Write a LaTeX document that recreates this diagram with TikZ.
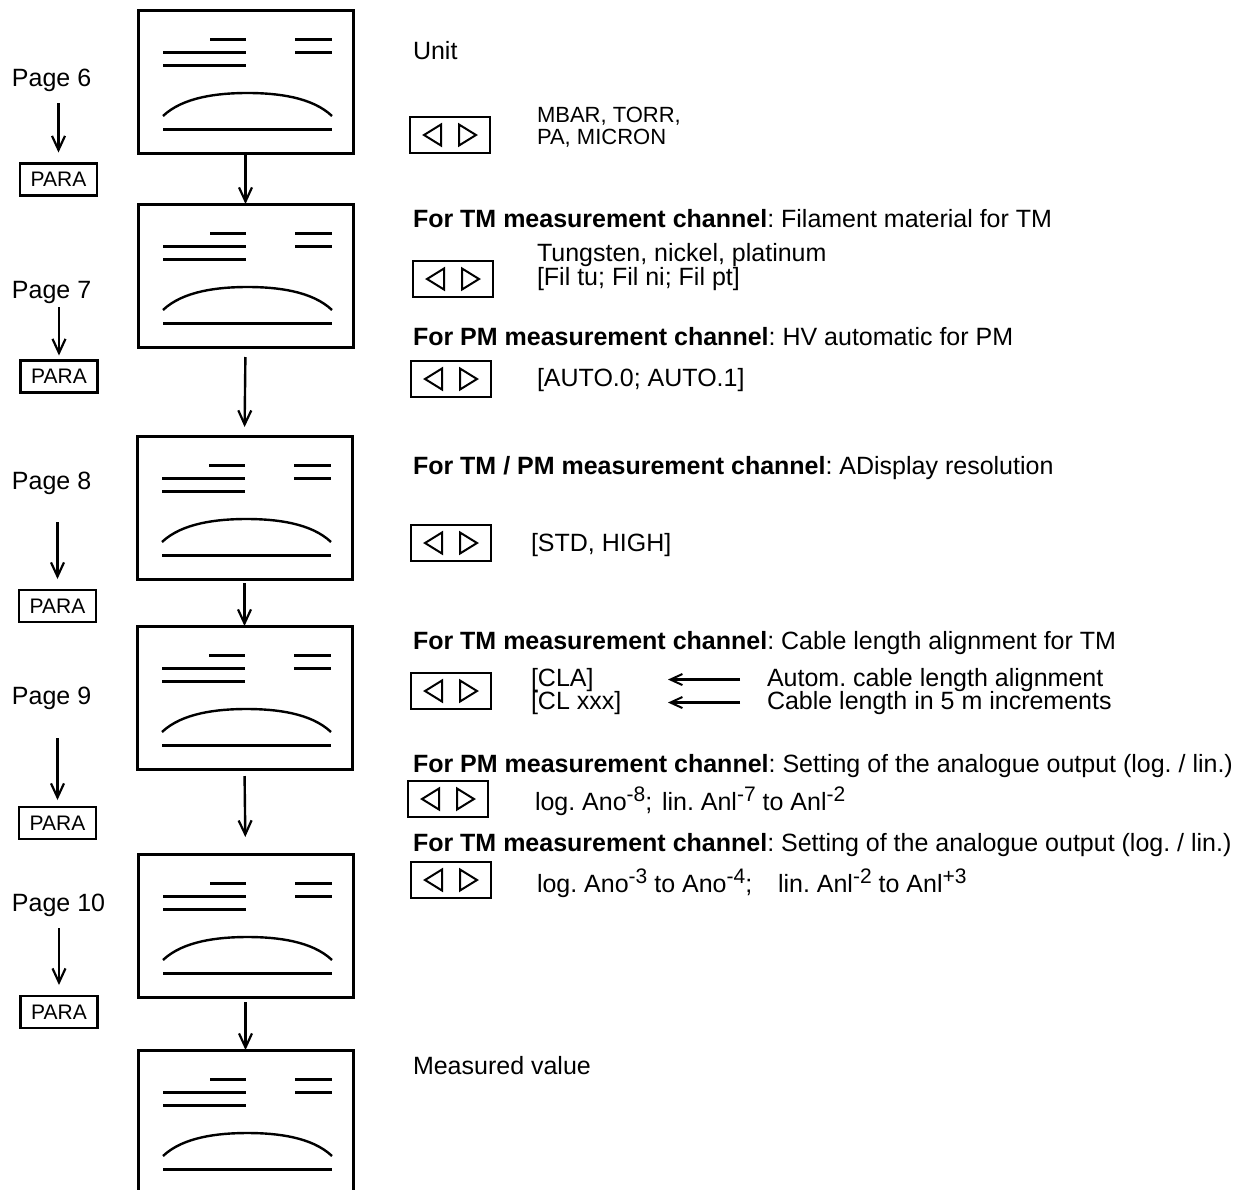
\documentclass[tikz,border=0pt]{standalone}
\usepackage{fontspec}
\setmainfont{Liberation Sans}
\usetikzlibrary{arrows.meta}
\frenchspacing
\newcommand\displines[1]{%
 \begin{scope}[shift={(#1.north west)}]
  \draw[dline] (72,29) -- (108,29) (157,29) -- (194,29)
            (25,42) -- (108,42) (157,42) -- (194,42)
            (25,55) -- (108,55)
            (25,119) -- (194,119);
  \draw[darc] (25,106) .. controls (45,87) and (80,83) .. (109.5,83) .. controls (139,83) and (174,87) .. (194,106);
 \end{scope}}
\newcommand\sps[1]{\raisebox{9pt}{\fontsize{21}{21}\selectfont #1}}
\begin{document}
\begin{tikzpicture}[x=1pt,y=-1pt,
  every node/.style={inner sep=0pt, outer sep=0pt},
  txt/.style={anchor=base west, font=\fontsize{25}{28}\selectfont},
  mtxt/.style={anchor=base west, font=\fontsize{22}{17}\selectfont},
  disp/.style={draw, line width=3pt, minimum width=215pt, minimum height=143pt, anchor=north west},
  dline/.style={line width=3pt},
  darc/.style={line width=2.4pt},
  btn/.style={draw, line width=2.8pt, minimum width=80pt, minimum height=36pt,
    path picture={
      \draw[line width=2pt, line join=miter]
        ([xshift=-26pt]path picture bounding box.center) -- ++(17pt,10.5pt) -- ++(0pt,-21pt) -- cycle
        ([xshift=26pt]path picture bounding box.center) -- ++(-17pt,10.5pt) -- ++(0pt,-21pt) -- cycle;}},
  para/.style={draw, line width=2.2pt, minimum width=77pt, minimum height=32pt, font=\fontsize{21}{21}\selectfont},
  arr/.style={line width=2.4pt, -{Straight Barb[length=14pt,width=13pt,line width=2.2pt]}},
  arrc/.style={line width=2.2pt, -{Straight Barb[length=12pt,width=11pt,line width=2pt]}}
]
\clip (0,0) rectangle (1258,1189);
\fill[white] (0,0) rectangle (1258,1189);

% display boxes
\node[disp] (b1) at (138,10) {};
\node[disp] (b2) at (138,204) {};
\node[disp] (b3) at (137,436) {};
\node[disp] (b4) at (137,626) {};
\node[disp] (b5) at (138,854) {};
\node[disp] (b6) at (138,1050) {};
\displines{b1}\displines{b2}\displines{b3}\displines{b4}\displines{b5}\displines{b6}

% connectors between displays
\draw[arr] (b1.south) -- (b2.north);
\draw[arr, shorten <=10pt, shorten >=9pt] (b2.south) -- (b3.north);
\draw[arr, shorten <=4pt] (b3.south) -- (b4.north);
\draw[arr, shorten <=7pt, shorten >=17pt] (b4.south) -- (b5.north);
\draw[arr, shorten <=5pt] (b5.south) -- (b6.north);

% left column
\node[txt] (p6) at (12,86) {Page 6};
\node[txt] (p7) at (12,298) {Page 7};
\node[txt] (p8) at (12,489) {Page 8};
\node[txt] (p9) at (12,704) {Page 9};
\node[txt] (p10) at (12,911) {Page 10};
\node[para] (r6) at (58.5,179.5) {PARA};
\node[para] (r7) at (59,376.5) {PARA};
\node[para] (r8) at (57.5,606) {PARA};
\node[para] (r9) at (57.5,823) {PARA};
\node[para] (r10) at (59,1012) {PARA};
\draw[arr, shorten <=12pt, shorten >=11pt] (p6.south -| r6.north) -- (r6.north);
\draw[arr, shorten <=4pt, shorten >=5pt] (p7.south -| r7.north) -- (r7.north);
\draw[arr, shorten <=28pt, shorten >=11pt] (p8.south -| r8.north) -- (r8.north);
\draw[arr, shorten <=29pt, shorten >=7pt] (p9.south -| r9.north) -- (r9.north);
\draw[arr, shorten <=12pt, shorten >=11pt] (p10.south -| r10.north) -- (r10.north);

% buttons
\node[btn] (k1) at (450,135) {};
\node[btn] (k2) at (453,279) {};
\node[btn] (k3) at (451,379) {};
\node[btn] (k4) at (451,543) {};
\node[btn] (k5) at (451,691) {};
\node[btn] (k6) at (448,799) {};
\node[btn] (k7) at (451,880) {};

% texts
\node[txt] (t1) at (413,59) {Unit};
\node[mtxt] (t1a) at (537,122) {MBAR, TORR,};
\node[mtxt] (t1b) at (537,144) {PA, MICRON};
\node[txt] (t2) at (413,227) {\textbf{For TM measurement channel}: Filament material for TM};
\node[txt] (t2a) at (537,261) {Tungsten, nickel, platinum};
\node[txt] (t2b) at (537,285) {[Fil tu; Fil ni; Fil pt]};
\node[txt] (t3) at (413,345) {\textbf{For PM measurement channel}: HV automatic for PM};
\node[txt] (t3a) at (537,386) {[AUTO.0; AUTO.1]};
\node[txt] (t4) at (413,474) {\textbf{For TM / PM measurement channel}: ADisplay resolution};
\node[txt] (t4a) at (531,551) {[STD, HIGH]};
\node[txt] (t5) at (413,649) {\textbf{For TM measurement channel}: Cable length alignment for TM};
\node[txt] (t5a) at (531,686) {[CLA]};
\node[txt] (t5b) at (531,709) {[CL xxx]};
\node[txt] (t5c) at (767,686) {Autom. cable length alignment};
\node[txt] (t5d) at (767,709) {Cable length in 5 m increments};
\coordinate (tip) at (668,0);
\draw[arrc, shorten <=27pt] (t5c.west) -- (t5c.west -| tip);
\draw[arrc, shorten <=27pt] (t5d.west) -- (t5d.west -| tip);
\node[txt] (t6) at (413,772) {\textbf{For PM measurement channel}: Setting of the analogue output (log. / lin.)};
\node[txt] (t6a) at (535,810) {log. Ano\sps{-8};};
\node[txt] (t6b) at (662,810) {lin. Anl\sps{-7} to Anl\sps{-2}};
\node[txt] (t7) at (413,851) {\textbf{For TM measurement channel}: Setting of the analogue output (log. / lin.)};
\node[txt] (t7a) at (537,892) {log. Ano\sps{-3} to Ano\sps{-4};};
\node[txt] (t7b) at (778,892) {lin. Anl\sps{-2} to Anl\sps{+3}};
\node[txt] (t8) at (413,1074) {Measured value};
\end{tikzpicture}
\end{document}
